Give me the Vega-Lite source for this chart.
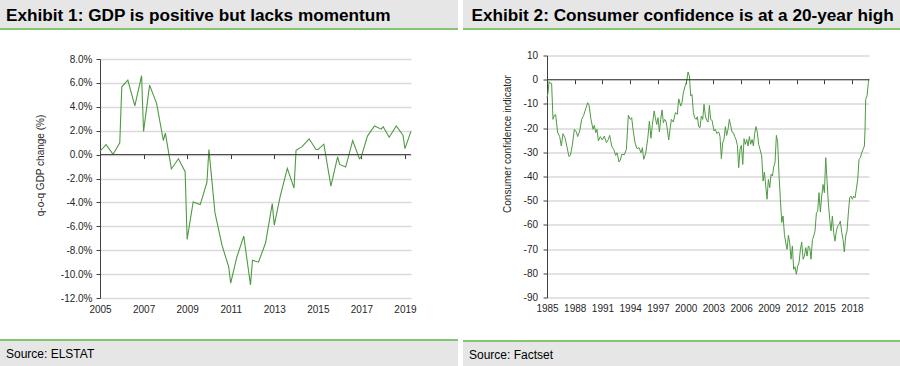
{
  "$schema": "https://vega.github.io/schema/vega-lite/v6.json",
  "background": "white",
  "padding": 0,
  "spacing": 5,
  "config": {"view": {"stroke": null}, "font": "Liberation Sans"},
  "datasets": {
    "gdp": [
      {"t":2005.0,"v":0.28},{"t":2005.277,"v":0.84},{"t":2005.6,"v":0.03},{"t":2005.908,"v":0.98},
      {"t":2006.0,"v":5.67},{"t":2006.277,"v":6.23},{"t":2006.6,"v":4.07},{"t":2006.908,"v":6.6},
      {"t":2007.0,"v":1.94},{"t":2007.277,"v":5.81},{"t":2007.6,"v":4.27},{"t":2007.908,"v":1.18},
      {"t":2008.0,"v":1.8},{"t":2008.277,"v":-1.2},{"t":2008.6,"v":-0.35},{"t":2008.908,"v":-1.43},
      {"t":2009.0,"v":-7.1},{"t":2009.277,"v":-3.96},{"t":2009.6,"v":-4.18},{"t":2009.908,"v":-2.33},
      {"t":2010.0,"v":0.42},{"t":2010.277,"v":-4.86},{"t":2010.6,"v":-7.58},{"t":2010.908,"v":-9.4},
      {"t":2011.0,"v":-10.75},{"t":2011.277,"v":-8.6},{"t":2011.6,"v":-6.82},{"t":2011.908,"v":-10.9},
      {"t":2012.0,"v":-8.84},{"t":2012.277,"v":-9.0},{"t":2012.6,"v":-7.4},{"t":2012.908,"v":-4.1},
      {"t":2013.0,"v":-5.9},{"t":2013.277,"v":-3.45},{"t":2013.6,"v":-1.15},{"t":2013.908,"v":-2.8},
      {"t":2014.0,"v":0.36},{"t":2014.277,"v":0.67},{"t":2014.6,"v":1.32},{"t":2014.908,"v":0.45},
      {"t":2015.0,"v":0.42},{"t":2015.277,"v":0.87},{"t":2015.6,"v":-2.64},{"t":2015.908,"v":-0.2},
      {"t":2016.0,"v":-0.82},{"t":2016.277,"v":-1.04},{"t":2016.6,"v":1.18},{"t":2016.908,"v":-0.35},
      {"t":2017.0,"v":-0.15},{"t":2017.277,"v":1.55},{"t":2017.6,"v":2.4},{"t":2017.908,"v":2.13},
      {"t":2018.0,"v":2.34},{"t":2018.277,"v":1.45},{"t":2018.6,"v":2.4},{"t":2018.908,"v":1.62},
      {"t":2019.0,"v":0.5},{"t":2019.277,"v":1.96}
    ],
    "cc": [
      {"t":1985.0,"v":-7.4},{"t":1985.11,"v":-5.4},{"t":1985.22,"v":-0.8},{"t":1985.36,"v":-1.5},{"t":1985.5,"v":-1.5},
      {"t":1985.65,"v":-16.4},{"t":1985.79,"v":-14.7},{"t":1985.94,"v":-14.5},{"t":1986.15,"v":-21.9},{"t":1986.37,"v":-23.5},
      {"t":1986.55,"v":-27.4},{"t":1986.73,"v":-22.3},{"t":1986.95,"v":-24},{"t":1987.16,"v":-27.7},{"t":1987.38,"v":-31.8},
      {"t":1987.53,"v":-31.3},{"t":1987.74,"v":-27.1},{"t":1987.96,"v":-20.5},{"t":1988.17,"v":-21.6},{"t":1988.32,"v":-23.5},
      {"t":1988.54,"v":-21.2},{"t":1988.75,"v":-16.4},{"t":1988.97,"v":-14.7},{"t":1989.19,"v":-12},{"t":1989.4,"v":-9.5},
      {"t":1989.55,"v":-10.6},{"t":1989.76,"v":-16.4},{"t":1989.98,"v":-20.5},{"t":1990.12,"v":-18.9},{"t":1990.27,"v":-21.9},
      {"t":1990.41,"v":-20.5},{"t":1990.56,"v":-25.3},{"t":1990.77,"v":-23.5},{"t":1990.99,"v":-24.9},{"t":1991.2,"v":-23.3},
      {"t":1991.42,"v":-26},{"t":1991.64,"v":-24.7},{"t":1991.78,"v":-23},{"t":1992.0,"v":-27.4},{"t":1992.22,"v":-28.8},
      {"t":1992.43,"v":-31.3},{"t":1992.58,"v":-30.2},{"t":1992.79,"v":-34},{"t":1992.94,"v":-33.2},{"t":1993.08,"v":-30.9},
      {"t":1993.37,"v":-31},{"t":1993.59,"v":-28.8},{"t":1993.8,"v":-14.7},{"t":1994.02,"v":-16.4},{"t":1994.16,"v":-15.7},
      {"t":1994.31,"v":-20.5},{"t":1994.52,"v":-26},{"t":1994.74,"v":-28.5},{"t":1994.96,"v":-28.1},{"t":1995.17,"v":-30.2},
      {"t":1995.32,"v":-28.1},{"t":1995.46,"v":-32.9},{"t":1995.68,"v":-30.4},{"t":1995.9,"v":-24.4},{"t":1996.08,"v":-17.1},
      {"t":1996.25,"v":-24.2},{"t":1996.4,"v":-18.5},{"t":1996.6,"v":-12.9},{"t":1996.72,"v":-15.7},{"t":1996.87,"v":-18.5},
      {"t":1997.01,"v":-15.7},{"t":1997.16,"v":-21.6},{"t":1997.3,"v":-16.4},{"t":1997.45,"v":-12.5},{"t":1997.59,"v":-17.8},
      {"t":1997.73,"v":-16.4},{"t":1997.88,"v":-17.1},{"t":1998.02,"v":-20.5},{"t":1998.17,"v":-24.9},{"t":1998.31,"v":-20.5},
      {"t":1998.46,"v":-16.4},{"t":1998.67,"v":-17.5},{"t":1998.89,"v":-13.6},{"t":1999.1,"v":-14.3},{"t":1999.25,"v":-7.9},
      {"t":1999.47,"v":-10.9},{"t":1999.61,"v":-9.5},{"t":1999.75,"v":-5.4},{"t":1999.97,"v":-2.3},{"t":2000.12,"v":-0.6},
      {"t":2000.26,"v":3.2},{"t":2000.41,"v":1.5},{"t":2000.55,"v":-6.7},{"t":2000.69,"v":-6.1},{"t":2000.84,"v":-13.6},
      {"t":2000.98,"v":-15.7},{"t":2001.13,"v":-16.4},{"t":2001.27,"v":-15.3},{"t":2001.41,"v":-19.4},{"t":2001.56,"v":-19.8},
      {"t":2001.7,"v":-15},{"t":2001.85,"v":-16.4},{"t":2001.99,"v":-10.2},{"t":2002.14,"v":-15},{"t":2002.28,"v":-16.8},
      {"t":2002.43,"v":-17.5},{"t":2002.57,"v":-10.6},{"t":2002.71,"v":-16.4},{"t":2002.86,"v":-16.8},{"t":2003.07,"v":-21.2},
      {"t":2003.22,"v":-20.5},{"t":2003.36,"v":-22.2},{"t":2003.58,"v":-21.6},{"t":2003.72,"v":-23.5},{"t":2003.87,"v":-32.6},
      {"t":2004.01,"v":-26},{"t":2004.15,"v":-24.7},{"t":2004.3,"v":-19.4},{"t":2004.44,"v":-23},{"t":2004.59,"v":-20.5},
      {"t":2004.73,"v":-16.4},{"t":2004.88,"v":-19.1},{"t":2005.02,"v":-21.6},{"t":2005.17,"v":-21.9},{"t":2005.31,"v":-23.5},
      {"t":2005.45,"v":-24.7},{"t":2005.6,"v":-27.1},{"t":2005.74,"v":-36.4},{"t":2005.89,"v":-28.8},{"t":2006.03,"v":-27.1},
      {"t":2006.18,"v":-35},{"t":2006.32,"v":-24.4},{"t":2006.46,"v":-26.7},{"t":2006.61,"v":-24.7},{"t":2006.75,"v":-27.4},
      {"t":2006.9,"v":-23.5},{"t":2007.04,"v":-26.7},{"t":2007.19,"v":-24.7},{"t":2007.33,"v":-27.4},{"t":2007.47,"v":-22.2},
      {"t":2007.62,"v":-19.4},{"t":2007.76,"v":-21.9},{"t":2007.9,"v":-26.7},{"t":2008.05,"v":-28.8},{"t":2008.23,"v":-31.5},
      {"t":2008.38,"v":-41.9},{"t":2008.52,"v":-38.2},{"t":2008.67,"v":-43.9},{"t":2008.81,"v":-49.4},{"t":2008.95,"v":-41.2},
      {"t":2009.1,"v":-44.6},{"t":2009.24,"v":-39.1},{"t":2009.39,"v":-39.8},{"t":2009.53,"v":-36},{"t":2009.67,"v":-34.3},
      {"t":2009.82,"v":-23},{"t":2009.96,"v":-26},{"t":2010.11,"v":-39.8},{"t":2010.25,"v":-49.4},{"t":2010.4,"v":-59},
      {"t":2010.54,"v":-56.3},{"t":2010.69,"v":-63.9},{"t":2010.83,"v":-67.4},{"t":2010.97,"v":-70.1},{"t":2011.12,"v":-64.3},
      {"t":2011.26,"v":-67.4},{"t":2011.41,"v":-74.2},{"t":2011.55,"v":-68.7},{"t":2011.69,"v":-78.4},{"t":2011.84,"v":-77.3},
      {"t":2011.98,"v":-80.4},{"t":2012.13,"v":-77},{"t":2012.27,"v":-75.6},{"t":2012.42,"v":-70.1},{"t":2012.56,"v":-67.1},
      {"t":2012.71,"v":-74.2},{"t":2012.85,"v":-72.9},{"t":2013.0,"v":-69.4},{"t":2013.14,"v":-72.9},{"t":2013.28,"v":-68.7},
      {"t":2013.43,"v":-69.4},{"t":2013.57,"v":-74.2},{"t":2013.72,"v":-66},{"t":2013.86,"v":-64.6},{"t":2014.0,"v":-62.5},
      {"t":2014.15,"v":-55},{"t":2014.29,"v":-54.3},{"t":2014.43,"v":-46.7},{"t":2014.58,"v":-54.7},{"t":2014.72,"v":-48.1},
      {"t":2014.87,"v":-43.3},{"t":2015.01,"v":-46.7},{"t":2015.16,"v":-32.2},{"t":2015.3,"v":-41.9},{"t":2015.44,"v":-50.8},
      {"t":2015.59,"v":-57.7},{"t":2015.73,"v":-62.5},{"t":2015.88,"v":-56.3},{"t":2016.02,"v":-63.2},{"t":2016.16,"v":-66.7},
      {"t":2016.31,"v":-62.5},{"t":2016.45,"v":-60.5},{"t":2016.6,"v":-59.8},{"t":2016.74,"v":-58.4},{"t":2016.89,"v":-63.2},
      {"t":2017.03,"v":-66},{"t":2017.17,"v":-71.2},{"t":2017.32,"v":-64.6},{"t":2017.46,"v":-62.5},{"t":2017.61,"v":-55},
      {"t":2017.75,"v":-48.8},{"t":2017.9,"v":-48.1},{"t":2018.04,"v":-49.4},{"t":2018.18,"v":-48.1},{"t":2018.33,"v":-48.8},
      {"t":2018.47,"v":-45.3},{"t":2018.62,"v":-41.2},{"t":2018.76,"v":-32.9},{"t":2018.91,"v":-32.2},{"t":2019.05,"v":-30.2},
      {"t":2019.2,"v":-28.8},{"t":2019.34,"v":-27.4},{"t":2019.41,"v":-20.5},{"t":2019.48,"v":-8.1},{"t":2019.63,"v":-6.7},
      {"t":2019.77,"v":-1.2},{"t":2019.84,"v":0.4}
    ]
  },
  "hconcat": [
    {
      "spacing": 25,
      "vconcat": [
        {
          "spacing": 24,
          "vconcat": [
            {
              "spacing": 0,
              "vconcat": [
                {
                  "width": 458, "height": 28,
                  "view": {"fill": "#e6e6e6", "stroke": null},
                  "data": {"values": []},
                  "mark": "point",
                  "title": {"text": "Exhibit 1: GDP is positive but lacks momentum", "anchor": "start", "frame": "group", "orient": "top", "baseline": "top", "offset": -24.3, "dx": 6, "font": "Liberation Sans", "fontSize": 17.2, "fontWeight": "bold", "color": "#000000"}
                },
                {
                  "width": 458, "height": 2,
                  "view": {"fill": "#84c56f", "stroke": null},
                  "data": {"values": []},
                  "mark": "point"
                }
              ]
            },
            {
              "spacing": 0,
              "hconcat": [
                {"width": 1, "height": 1, "data": {"values": []}, "mark": "point"},
                {
                  "width": 311, "height": 239,
                  "layer": [
                    {
                      "data": {"name": "gdp"},
                      "mark": {"type": "line", "color": "#4f9a43", "strokeWidth": 1.1},
                      "encoding": {
                        "x": {"field": "t", "type": "quantitative",
                          "scale": {"domain": [2005, 2019.277], "nice": false, "zero": false},
                          "axis": {"orient": "bottom", "values": [2005, 2007, 2009, 2011, 2013, 2015, 2017, 2019], "labelExpr": "'' + datum.value", "domain": false, "ticks": false, "tickSize": 0, "grid": false, "labelPadding": 6, "labelFlush": false, "labelOverlap": false, "labelFont": "Liberation Sans Narrow, Arial Narrow, Liberation Sans", "labelFontSize": 10, "labelColor": "#262626", "title": null}},
                        "y": {"field": "v", "type": "quantitative",
                          "scale": {"domain": [-12, 8], "nice": false, "zero": false},
                          "axis": {"orient": "left", "values": [-12, -10, -8, -6, -4, -2, 0, 2, 4, 6, 8], "labelOverlap": false, "labelExpr": "(datum.value < 0 ? '-' : '') + format(abs(datum.value), '.1f') + '%'", "title": "q-o-q GDP change (%)", "titleX": -56.4, "titleY": 106, "titleAngle": -90, "titleBaseline": "alphabetic", "titleAlign": "center", "titleFont": "Liberation Sans Narrow, Arial Narrow, Liberation Sans", "titleFontSize": 10, "titleFontWeight": "normal", "titleColor": "#262626", "minExtent": 99, "grid": true, "gridColor": "#d9d9d9", "gridWidth": 1.5, "domainColor": "#404040", "domainWidth": 1, "tickColor": "#404040", "tickSize": 4, "labelFont": "Liberation Sans Narrow, Arial Narrow, Liberation Sans", "labelFontSize": 10, "labelColor": "#262626", "labelPadding": 4}}
                      }
                    },
                    {
                      "data": {"values": [{}]},
                      "mark": {"type": "rule", "color": "#3a3a3a", "strokeWidth": 1},
                      "encoding": {
                        "y": {"datum": 0, "type": "quantitative",
                          "axis": {"orient": "left", "values": [-12, -10, -8, -6, -4, -2, 0, 2, 4, 6, 8], "labelOverlap": false, "labelExpr": "(datum.value < 0 ? '-' : '') + format(abs(datum.value), '.1f') + '%'", "title": "q-o-q GDP change (%)", "titleX": -56.4, "titleY": 106, "titleAngle": -90, "titleBaseline": "alphabetic", "titleAlign": "center", "titleFont": "Liberation Sans Narrow, Arial Narrow, Liberation Sans", "titleFontSize": 10, "titleFontWeight": "normal", "titleColor": "#262626", "minExtent": 99, "grid": true, "gridColor": "#d9d9d9", "gridWidth": 1.5, "domainColor": "#404040", "domainWidth": 1, "tickColor": "#404040", "tickSize": 4, "labelFont": "Liberation Sans Narrow, Arial Narrow, Liberation Sans", "labelFontSize": 10, "labelColor": "#262626", "labelPadding": 4}},
                        "x": {"datum": 2005, "type": "quantitative", "axis": {"orient": "bottom", "offset": -143.4, "values": [2007, 2009, 2011, 2013, 2015, 2017, 2019], "labels": false, "domain": false, "ticks": true, "tickSize": 4, "tickColor": "#3a3a3a", "grid": false, "title": null}},
                        "x2": {"datum": 2019.277}
                      }
                    }
                  ],
                  "resolve": {"axis": {"x": "independent"}}
                }
              ]
            }
          ]
        },
        {
          "spacing": 0,
          "vconcat": [
            {
              "width": 458, "height": 2,
              "view": {"fill": "#84c56f", "stroke": null},
              "data": {"values": []},
              "mark": "point"
            },
            {
              "width": 458, "height": 25,
              "view": {"fill": "#e6e6e6", "stroke": null},
              "data": {"values": []},
              "mark": "point",
              "title": {"text": "Source: ELSTAT", "anchor": "start", "frame": "group", "orient": "top", "baseline": "top", "offset": -20, "dx": 6, "font": "Liberation Sans", "fontSize": 12, "fontWeight": "normal", "color": "#000000"}
            }
          ]
        }
      ]
    },
    {
      "spacing": 26,
      "vconcat": [
        {
          "spacing": 20.5,
          "vconcat": [
            {
              "spacing": 0,
              "vconcat": [
                {
                  "width": 437, "height": 28,
                  "view": {"fill": "#e6e6e6", "stroke": null},
                  "data": {"values": []},
                  "mark": "point",
                  "title": {"text": "Exhibit 2: Consumer confidence is at a 20-year high", "anchor": "start", "frame": "group", "orient": "top", "baseline": "top", "offset": -24.3, "dx": 8.5, "font": "Liberation Sans", "fontSize": 17.2, "fontWeight": "bold", "color": "#000000"}
                },
                {
                  "width": 437, "height": 2,
                  "view": {"fill": "#84c56f", "stroke": null},
                  "data": {"values": []},
                  "mark": "point"
                }
              ]
            },
            {
              "spacing": 0,
              "hconcat": [
                {"width": 1, "height": 1, "data": {"values": []}, "mark": "point"},
                {
                  "width": 322, "height": 242,
                  "layer": [
                    {
                      "data": {"name": "cc"},
                      "mark": {"type": "line", "color": "#4f9a43", "strokeWidth": 1},
                      "encoding": {
                        "x": {"field": "t", "type": "quantitative",
                          "scale": {"domain": [1985, 2019.84], "nice": false, "zero": false},
                          "axis": {"orient": "bottom", "values": [1985, 1988, 1991, 1994, 1997, 2000, 2003, 2006, 2009, 2012, 2015, 2018], "labelExpr": "'' + datum.value", "domain": false, "ticks": false, "tickSize": 0, "grid": false, "labelPadding": 6, "labelFlush": false, "labelOverlap": false, "labelFont": "Liberation Sans Narrow, Arial Narrow, Liberation Sans", "labelFontSize": 10, "labelColor": "#262626", "title": null}},
                        "y": {"field": "v", "type": "quantitative",
                          "scale": {"domain": [-90, 10], "nice": false, "zero": false},
                          "axis": {"orient": "left", "values": [-90, -80, -70, -60, -50, -40, -30, -20, -10, 0, 10], "labelOverlap": false, "labelExpr": "'' + datum.value", "title": "Consumer confidence indicator", "titleX": -36.3, "titleY": 88, "titleAngle": -90, "titleBaseline": "alphabetic", "titleAlign": "center", "titleFont": "Liberation Sans Narrow, Arial Narrow, Liberation Sans", "titleFontSize": 10, "titleFontWeight": "normal", "titleColor": "#262626", "minExtent": 83, "grid": true, "gridColor": "#d9d9d9", "gridWidth": 1.5, "domainColor": "#404040", "domainWidth": 1, "tickColor": "#404040", "tickSize": 4, "labelFont": "Liberation Sans Narrow, Arial Narrow, Liberation Sans", "labelFontSize": 10, "labelColor": "#262626", "labelPadding": 5.5}}
                      }
                    },
                    {
                      "data": {"values": [{}]},
                      "mark": {"type": "rule", "color": "#3a3a3a", "strokeWidth": 1},
                      "encoding": {
                        "y": {"datum": 0, "type": "quantitative",
                          "axis": {"orient": "left", "values": [-90, -80, -70, -60, -50, -40, -30, -20, -10, 0, 10], "labelOverlap": false, "labelExpr": "'' + datum.value", "title": "Consumer confidence indicator", "titleX": -36.3, "titleY": 88, "titleAngle": -90, "titleBaseline": "alphabetic", "titleAlign": "center", "titleFont": "Liberation Sans Narrow, Arial Narrow, Liberation Sans", "titleFontSize": 10, "titleFontWeight": "normal", "titleColor": "#262626", "minExtent": 83, "grid": true, "gridColor": "#d9d9d9", "gridWidth": 1.5, "domainColor": "#404040", "domainWidth": 1, "tickColor": "#404040", "tickSize": 4, "labelFont": "Liberation Sans Narrow, Arial Narrow, Liberation Sans", "labelFontSize": 10, "labelColor": "#262626", "labelPadding": 5.5}},
                        "x": {"datum": 1985, "type": "quantitative", "axis": {"orient": "bottom", "offset": -217.8, "values": [1988, 1991, 1994, 1997, 2000, 2003, 2006, 2009, 2012, 2015, 2018], "labels": false, "domain": false, "ticks": true, "tickSize": 4, "tickColor": "#3a3a3a", "grid": false, "title": null}},
                        "x2": {"datum": 2019.84}
                      }
                    }
                  ],
                  "resolve": {"axis": {"x": "independent"}}
                }
              ]
            }
          ]
        },
        {
          "spacing": 0,
          "vconcat": [
            {
              "width": 437, "height": 2,
              "view": {"fill": "#84c56f", "stroke": null},
              "data": {"values": []},
              "mark": "point"
            },
            {
              "width": 437, "height": 25,
              "view": {"fill": "#e6e6e6", "stroke": null},
              "data": {"values": []},
              "mark": "point",
              "title": {"text": "Source: Factset", "anchor": "start", "frame": "group", "orient": "top", "baseline": "top", "offset": -20, "dx": 6, "font": "Liberation Sans", "fontSize": 12, "fontWeight": "normal", "color": "#000000"}
            }
          ]
        }
      ]
    }
  ]
}
